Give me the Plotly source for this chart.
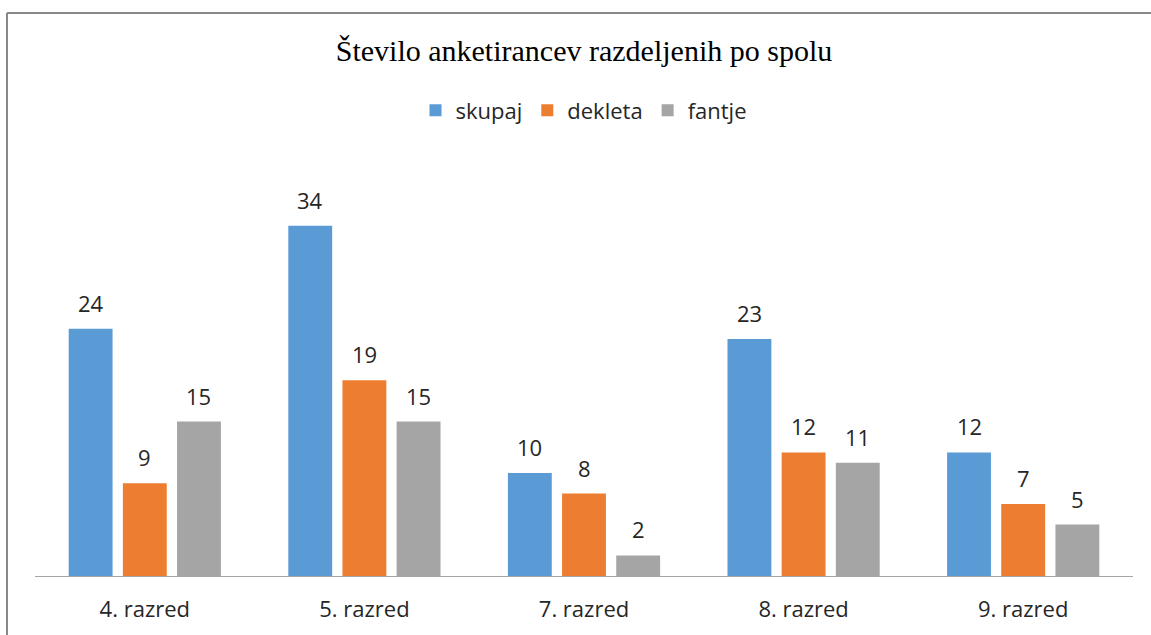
import plotly.graph_objects as go

categories = ["4. razred", "5. razred", "7. razred", "8. razred", "9. razred"]
skupaj = [24, 34, 10, 23, 12]
dekleta = [9, 19, 8, 12, 7]
fantje = [15, 15, 2, 11, 5]

series = [
    ("skupaj", skupaj, "#5B9BD5"),
    ("dekleta", dekleta, "#ED7D31"),
    ("fantje", fantje, "#A5A5A5"),
]

plot_w = 1151 - 35 - 18
bargap = 0.26
slot = plot_w / len(categories) * (1 - bargap) / len(series)

fig = go.Figure()
for i, (name, vals, color) in enumerate(series):
    fig.add_trace(go.Bar(
        x=categories, y=vals, name=name,
        marker=dict(color=color, line=dict(width=0)),
    ))
    # data labels, lifted a bit above the bar like in Excel
    for c, v in zip(categories, vals):
        fig.add_annotation(
            x=c, y=v, text=str(v), showarrow=False,
            xanchor="center", yanchor="bottom",
            xshift=(i - 1) * slot, yshift=9,
            font=dict(family="Open Sans", size=22, color="#262626"),
        )

fig.update_layout(
    width=1151, height=635,
    paper_bgcolor="white", plot_bgcolor="white",
    margin=dict(l=35, r=18, t=164, b=59),
    barmode="group", bargap=bargap, bargroupgap=0.19,
    title=dict(
        text="Število anketirancev razdeljenih po spolu",
        x=0.5, xref="paper", xanchor="center",
        y=1 - 50 / 635, yanchor="middle",
        font=dict(family="Liberation Serif", size=30, color="#000000"),
    ),
    legend=dict(
        orientation="h", x=0.5, xanchor="center", xref="paper",
        y=1.13, yanchor="middle",
        font=dict(family="Open Sans", size=22, color="#262626"),
        itemwidth=30, traceorder="normal",
    ),
    showlegend=True,
    xaxis=dict(
        showgrid=False, showline=True, linecolor="#A6A6A6", linewidth=1,
        ticks="", ticklabelstandoff=14,
        tickfont=dict(family="Open Sans", size=22, color="#262626"),
    ),
    yaxis=dict(range=[0, 40], visible=False, showgrid=False, zeroline=False),
    shapes=[
        dict(type="line", xref="paper", yref="paper",
             x0=(7 - 35) / 1098, x1=(1160 - 35) / 1098,
             y0=(576 - 13) / 412, y1=(576 - 13) / 412,
             line=dict(color="#888888", width=2)),
        dict(type="line", xref="paper", yref="paper",
             x0=(7 - 35) / 1098, x1=(7 - 35) / 1098,
             y0=(576 - 13) / 412, y1=(576 - 650) / 412,
             line=dict(color="#888888", width=2)),
    ],
)

fig.write_html("out.html", config={"displayModeBar": False},
               post_script="document.body.style.margin='0';")
